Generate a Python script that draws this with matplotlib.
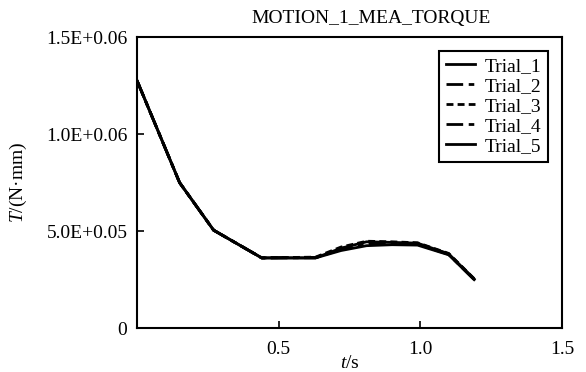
import numpy as np
import matplotlib.pyplot as plt

plt.rcParams['font.family'] = ['Liberation Serif', 'DejaVu Serif']
plt.rcParams['mathtext.fontset'] = 'custom'
plt.rcParams['mathtext.it'] = 'Liberation Serif:italic'
plt.rcParams['mathtext.rm'] = 'Liberation Serif'

# 数据
t = [0.0, 0.15, 0.27, 0.44, 0.63, 0.72, 0.81, 0.90, 0.99, 1.10, 1.19]
trial_1 = [1.275e6, 0.75e6, 0.505e6, 0.362e6, 0.362e6, 0.400e6, 0.425e6, 0.430e6, 0.428e6, 0.378e6, 0.250e6]
trial_2 = [1.275e6, 0.75e6, 0.505e6, 0.362e6, 0.364e6, 0.410e6, 0.440e6, 0.440e6, 0.435e6, 0.382e6, 0.252e6]
trial_3 = [1.275e6, 0.75e6, 0.505e6, 0.362e6, 0.366e6, 0.418e6, 0.448e6, 0.445e6, 0.440e6, 0.385e6, 0.255e6]
trial_4 = [1.275e6, 0.75e6, 0.505e6, 0.362e6, 0.363e6, 0.405e6, 0.432e6, 0.436e6, 0.432e6, 0.380e6, 0.250e6]
trial_5 = [1.275e6, 0.75e6, 0.505e6, 0.362e6, 0.362e6, 0.412e6, 0.445e6, 0.442e6, 0.438e6, 0.383e6, 0.253e6]
labels = ['Trial_1', 'Trial_2', 'Trial_3', 'Trial_4', 'Trial_5']
styles = ['-', (0, (6, 2, 2, 2)), (0, (2.5, 1.5)), (0, (6, 2, 2, 2)), '-']

yticks = [0, 0.5e6, 1.0e6, 1.5e6]
ytick_labels = ['0', '5.0E+0.05', '1.0E+0.06', '1.5E+0.06']
xticks = [0.5, 1.0, 1.5]
xtick_labels = ['0.5', '1.0', '1.5']

fig = plt.figure(figsize=(5.86, 3.72), dpi=100)
ax = fig.add_axes([0.234, 0.118, 0.725, 0.782])

for y, lab, ls in zip([trial_1, trial_2, trial_3, trial_4, trial_5], labels, styles):
    ax.plot(t, y, color='black', linestyle=ls, linewidth=2.0, label=lab)

ax.set_xlim(0, 1.5)
ax.set_ylim(0, 1.5e6)
ax.set_xticks(xticks)
ax.set_xticklabels(xtick_labels)
ax.set_yticks(yticks)
ax.set_yticklabels(ytick_labels)
ax.tick_params(direction='in', length=5, width=1.2, labelsize=14)
ax.tick_params(axis='x', pad=9)
ax.tick_params(axis='y', pad=7)
for s in ax.spines.values():
    s.set_linewidth(1.5)

ax.set_xlabel('$t$/s', fontsize=14, labelpad=-2)
ax.set_ylabel('$T$/(N·mm)', fontsize=14, labelpad=12)
ax.set_title('MOTION_1_MEA_TORQUE', fontsize=14, x=0.55, pad=10)

leg = ax.legend(loc='upper right', fontsize=14, frameon=True, fancybox=False,
                edgecolor='black', framealpha=1, handlelength=1.5, handletextpad=0.5,
                labelspacing=0.12, borderpad=0.35, borderaxespad=0.7)
leg.get_frame().set_linewidth(1.5)

plt.savefig('out.png', dpi=100)
